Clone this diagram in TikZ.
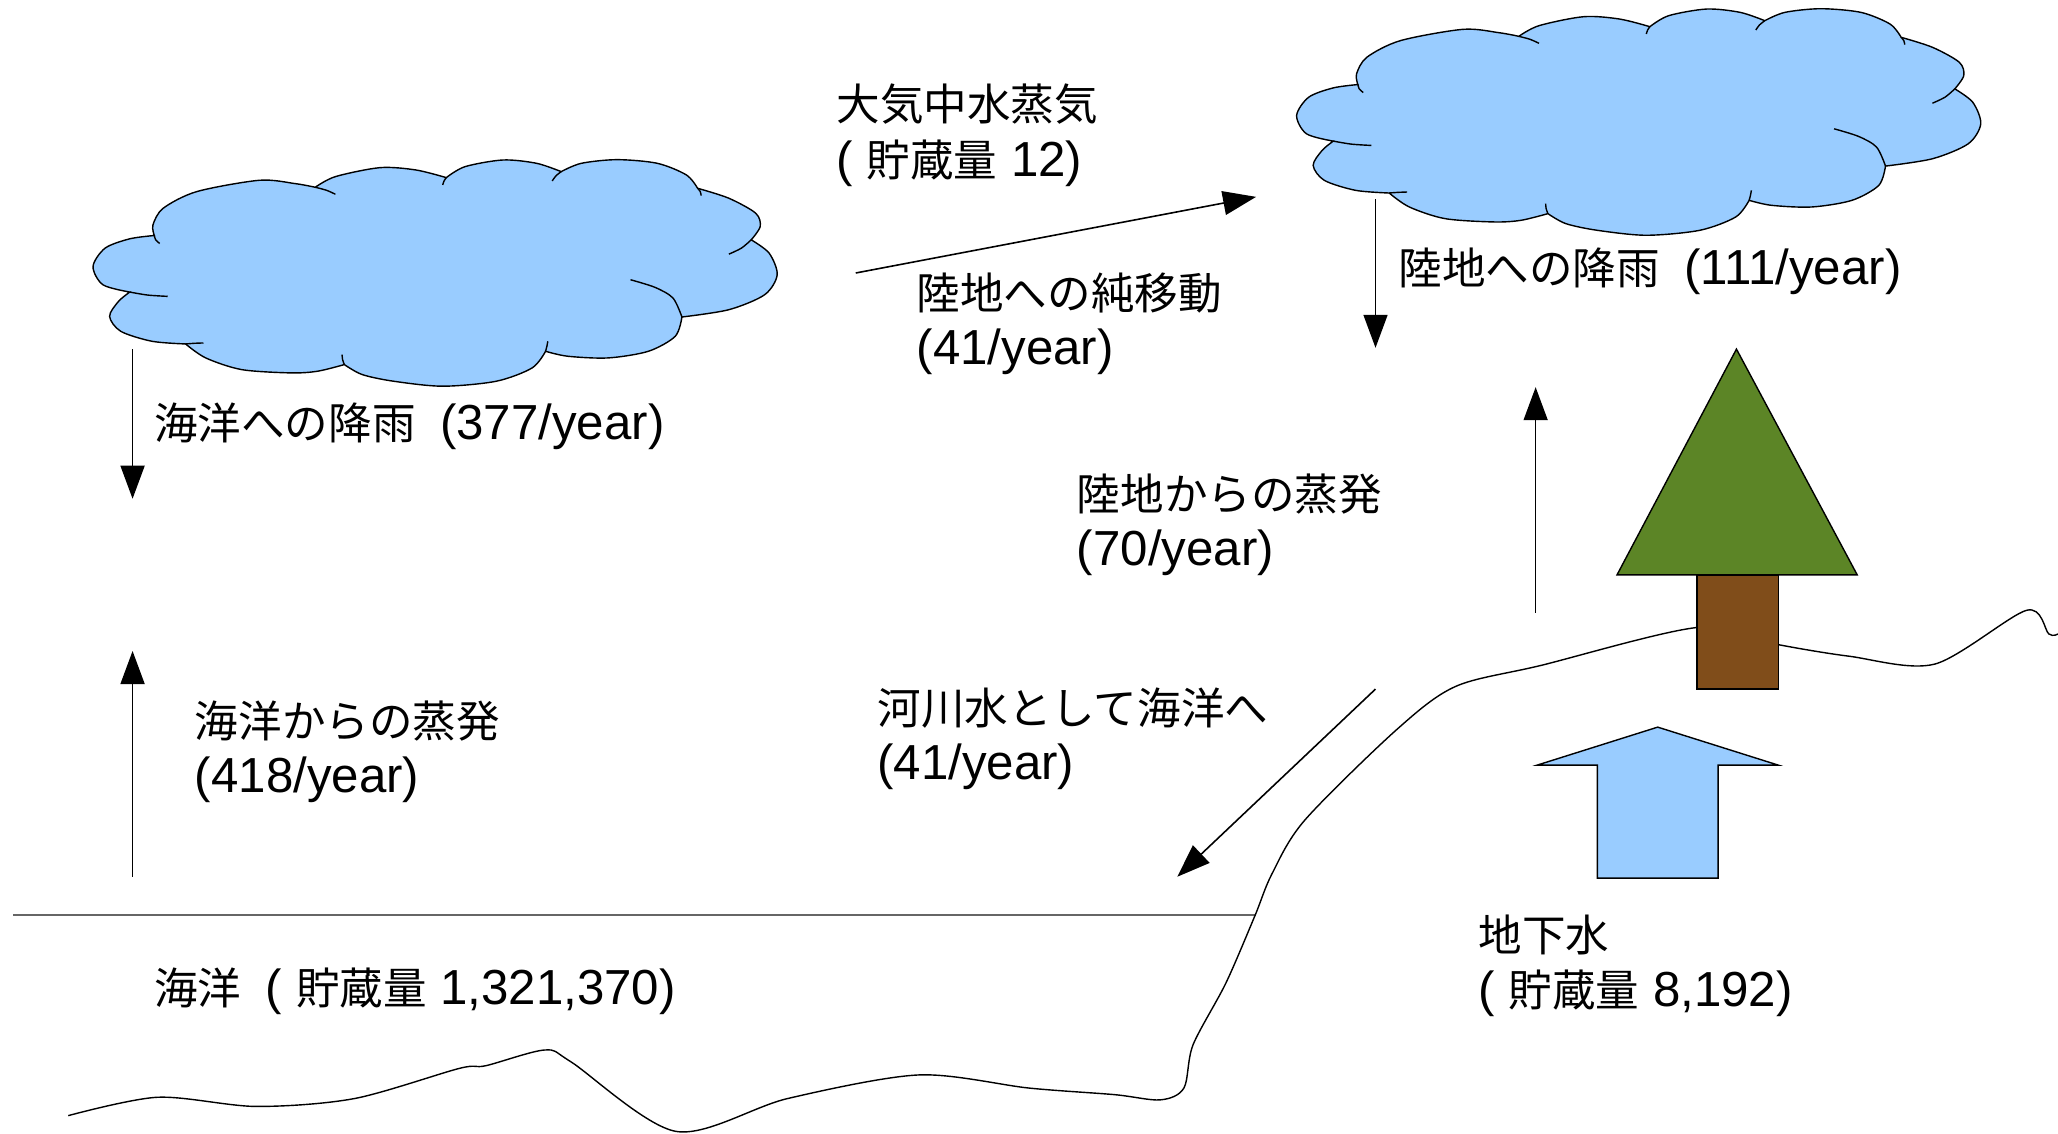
\documentclass[tikz,border=0pt]{standalone}
\usepackage{fontspec}
\setmainfont{Liberation Sans}
\newfontfamily\jp[Scale=0.885]{Noto Sans CJK JP}
\usetikzlibrary{arrows.meta}
\definecolor{sky}{RGB}{153,204,255}
\definecolor{leaf}{RGB}{92,133,38}
\definecolor{bark}{RGB}{128,77,26}
\tikzset{
  flow/.style={line width=0.45pt, -{Triangle[length=3.3mm,width=2.4mm]}},
  note/.style={anchor=west, inner sep=0pt, align=left, font=\fontsize{14}{15.7}\selectfont},
  skycloud/.pic={
    \draw[fill=sky, line width=0.4pt]
      plot[smooth] coordinates {(100,412) (40,390) (18,335) (45,280) (100,252) (155,242)}
      -- plot[smooth] coordinates {(155,242) (152,210) (175,160) (250,110) (390,76) (470,86) (515,97)}
      -- plot[smooth] coordinates {(515,97) (560,65) (660,38) (740,45) (808,68)}
      -- plot[smooth] coordinates {(808,68) (850,35) (935,15) (1010,25) (1065,50)}
      -- plot[smooth] coordinates {(1065,50) (1110,25) (1190,14) (1280,25) (1345,60) (1370,100)}
      -- plot[smooth] coordinates {(1370,100) (1440,130) (1500,175) (1510,215) (1490,255)}
      -- plot[smooth] coordinates {(1490,255) (1530,295) (1548,360) (1520,420) (1440,465) (1335,487)}
      -- plot[smooth] coordinates {(1335,487) (1320,545) (1260,590) (1170,610) (1080,605) (1030,590)}
      -- plot[smooth] coordinates {(1030,590) (1000,640) (920,680) (800,695) (690,680) (620,660) (580,630)}
      -- plot[smooth] coordinates {(580,630) (520,650) (460,655) (350,645) (270,610) (225,568)}
      -- plot[smooth] coordinates {(225,568) (150,560) (80,530) (55,485) (75,440) (100,412)}
      -- cycle;
    \draw[line width=0.4pt]
      plot[smooth] coordinates {(155,242) (158,255) (167,266)}
      plot[smooth] coordinates {(100,412) (140,421) (185,425)}
      plot[smooth] coordinates {(225,568) (245,566) (265,565)}
      plot[smooth] coordinates {(515,97) (540,106) (560,118)}
      plot[smooth] coordinates {(808,68) (803,78) (800,90)}
      plot[smooth] coordinates {(1065,50) (1053,63) (1045,78)}
      plot[smooth] coordinates {(1370,100) (1376,110) (1378,122)}
      plot[smooth] coordinates {(1490,255) (1468,280) (1440,298)}
      plot[smooth] coordinates {(1335,487) (1315,430) (1275,398) (1220,375)}
      plot[smooth] coordinates {(1030,590) (1033,575) (1035,560)}
      plot[smooth] coordinates {(580,630) (576,615) (575,600)};
  }
}
\begin{document}
\begin{tikzpicture}[x=0.013125cm, y=-0.013125cm]
  \useasboundingbox (0,0) rectangle (1568,864);
  % clouds
  \begin{scope}[shift={(64.76,118.10)}, x=0.004464cm, y=-0.003333cm]
    \pic (seacloud) at (0,0) {skycloud};
  \end{scope}
  \begin{scope}[shift={(981.76,3.10)}, x=0.004464cm, y=-0.003333cm]
    \pic (landcloud) at (0,0) {skycloud};
  \end{scope}
  % sea surface and coast
  \coordinate (shore) at (957,697);
  \coordinate (sealeft) at (10,697);
  \draw[gray!80!black, line width=0.6pt] (sealeft) -- (shore);
  \draw[line width=0.4pt] plot[smooth, tension=0.5] coordinates {
    (52,850) (120,836) (195,843) (270,837) (350,814) (370,812) (415,800)
    (435,809) (515,862) (600,837) (700,819) (784,829) (849,834) (884,838)
    (902,829) (909,796) (934,749) (956,698) (969,666) (994,625) (1064,556)
    (1109,523) (1174,507) (1294,478) (1354,491) (1409,500) (1474,506)
    (1544,465) (1561,483) (1568,483)};
  % tree
  \draw[line width=0.4pt, fill=leaf] (1323,266) -- (1415,438) -- (1232,438) -- cycle;
  \draw[line width=0.4pt, fill=bark] (1293,438) rectangle (1355,525);
  % ground water
  \draw[line width=0.4pt, fill=sky] (1263,554) -- (1355,583) -- (1309,583) -- (1309,669)
    -- (1217,669) -- (1217,583) -- (1171,583) -- cycle;
  % arrow ends
  \coordinate (r1) at (101,266);
  \coordinate (r2) at (101,380);
  \coordinate (e1) at (101,668);
  \coordinate (e2) at (101,496);
  \coordinate (n1) at (652,208);
  \coordinate (n2) at (957,150);
  \coordinate (l1) at (1048,152);
  \coordinate (l2) at (1048,265);
  \coordinate (v1) at (1170,467);
  \coordinate (v2) at (1170,295);
  \coordinate (s1) at (1048,525);
  \coordinate (s2) at (897,668);
  \draw[flow] (r1) -- (r2);
  \draw[flow] (e1) -- (e2);
  \draw[flow] (n1) -- (n2);
  \draw[flow] (l1) -- (l2);
  \draw[flow] (v1) -- (v2);
  \draw[flow] (s1) -- (s2);
  % texts
  \node[note] (vapour) at (637,103) {{\jp 大気中水蒸気}\\( {\jp 貯蔵量} 12)};
  \node[note] (net) at (698,247) {{\jp 陸地への純移動}\\(41/year)};
  \node[note] (landrain) at (1065,207) {{\jp 陸地への降雨}\enspace(111/year)};
  \node[note] (searain) at (117,325) {{\jp 海洋への降雨}\enspace(377/year)};
  \node[note] (landevap) at (820,400) {{\jp 陸地からの蒸発}\\(70/year)};
  \node[note] (seaevap) at (148,573) {{\jp 海洋からの蒸発}\\(418/year)};
  \node[note] (river) at (668,563) {{\jp 河川水として海洋へ}\\(41/year)};
  \node[note] (ground) at (1126,736) {{\jp 地下水}\\( {\jp 貯蔵量} 8,192)};
  \node[note] (ocean) at (117,755) {{\jp 海洋}\enspace( {\jp 貯蔵量} 1,321,370)};
\end{tikzpicture}
\end{document}
